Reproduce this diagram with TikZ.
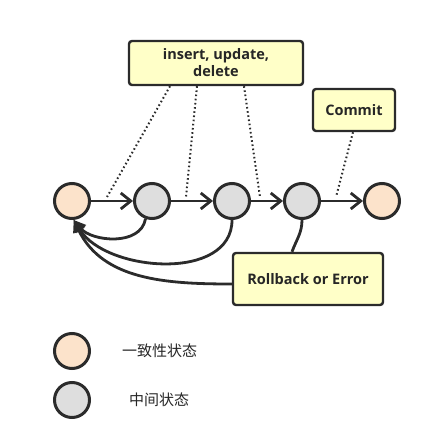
\documentclass[tikz,border=0pt]{standalone}
\usepackage{fontspec}
\setmainfont{Open Sans}
\newfontfamily\cjk{Noto Sans CJK SC}
\usetikzlibrary{arrows.meta}
\definecolor{peach}{HTML}{FCE3CB}
\definecolor{midgrey}{HTML}{DEDEDE}
\definecolor{notefill}{HTML}{FFFFC8}
\definecolor{edge}{HTML}{2B2B2B}
\tikzset{
  state/.style={circle,draw=edge,line width=3pt,minimum size=35pt,inner sep=0pt},
  stable/.style={state,fill=peach},
  inter/.style={state,fill=midgrey},
  note/.style={draw=edge,line width=2.4pt,fill=notefill,rounded corners=3pt,
    font=\bfseries\fontsize{14.5}{17}\selectfont,align=center,text=black!85},
  flow/.style={draw=edge,line width=2.8pt,-{Straight Barb[length=10pt,width=16pt]}},
  back/.style={draw=edge,line width=2.8pt,-{Triangle[length=12pt,width=12pt]}},
  hint/.style={draw=edge,line width=2pt,dash pattern=on 1.6pt off 2.6pt},
  keytext/.style={anchor=west,inner sep=0pt,font=\cjk\fontsize{15}{17}\selectfont,text=black!85},
}
\begin{document}
\begin{tikzpicture}[x=1pt,y=1pt]
\useasboundingbox (0,0) rectangle (448,437);
% States of the transaction
\node[stable] (s0) at (72,236) {};
\node[inter] (s1) at (152,236) {};
\node[inter] (s2) at (232,236) {};
\node[inter] (s3) at (302,236) {};
\node[stable] (s4) at (382,236) {};
% Notes
\node[note,minimum width=174pt,minimum height=44pt] (ops) at (216,374) {insert, update,\\delete};
\node[note,minimum width=82pt,minimum height=42pt] (commit) at (354,327) {Commit};
\node[note,minimum width=150pt,minimum height=52pt] (rollback) at (308,158) {Rollback or Error};
% Forward steps
\draw[flow] (s0) -- (s1);
\draw[flow] (s1) -- (s2);
\draw[flow] (s2) -- (s3);
\draw[flow] (s3) -- (s4);
% Notes pointing at the steps
\coordinate (h1) at (107,240);
\coordinate (h2) at (186,240);
\coordinate (h3) at (260,240);
\coordinate (h4) at (336,240);
\draw[hint] ([xshift=-46pt]ops.south) -- (h1);
\draw[hint] ([xshift=-19pt]ops.south) -- (h2);
\draw[hint] ([xshift=28pt]ops.south) -- (h3);
\draw[hint] ([xshift=-1pt]commit.south) -- (h4);
% Back to the first state
\draw[back] (s1.250) to[out=-100,in=-50] (s0.-85);
\draw[back] (s2.south) to[out=-90,in=-58] (s0.-85);
\draw[edge,line width=2.8pt] (s3.south) to[out=-90,in=70] ([xshift=-16pt]rollback.north);
\draw[back] ([yshift=-5pt]rollback.west) to[out=180,in=-64] (s0.-85);
% Key
\node[stable] (key0) at (72,86) {};
\node[inter] (key1) at (72,37) {};
\node[keytext] (key0text) at (122,86) {一致性状态};
\node[keytext] (key1text) at (129,37) {中间状态};
\end{tikzpicture}
\end{document}
